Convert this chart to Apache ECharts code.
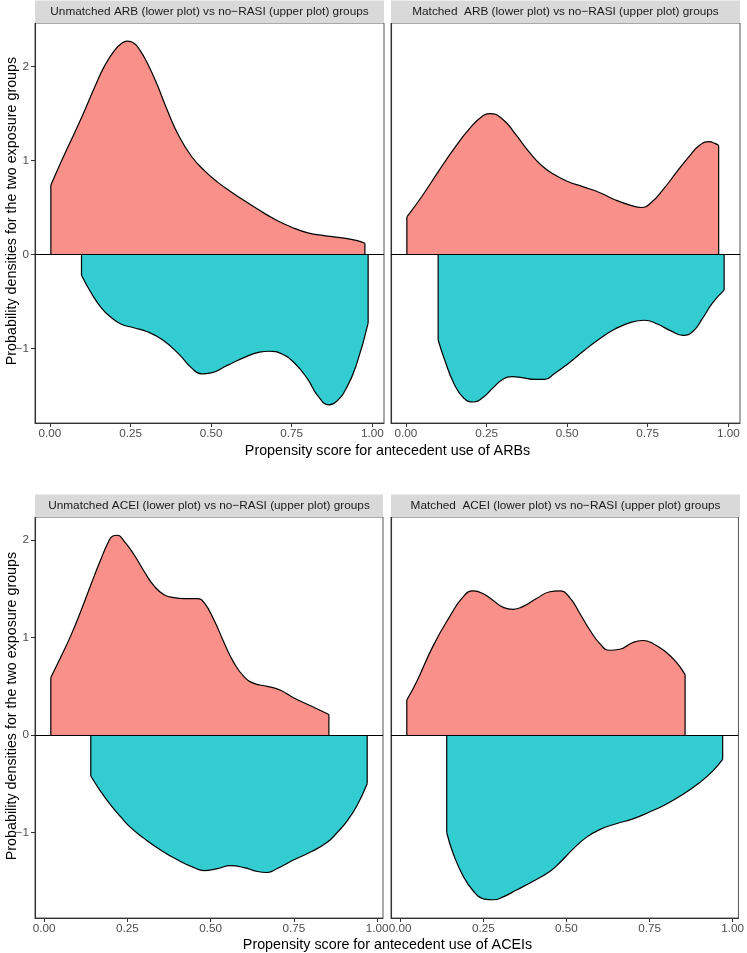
<!DOCTYPE html>
<html><head><meta charset="utf-8">
<script src="https://cdn.jsdelivr.net/npm/echarts@6/dist/echarts.min.js"></script>
<style>html,body{margin:0;padding:0;background:#fff}#c{width:747px;height:953px}</style>
</head><body><div id="c"></div>
<script>
// ---------- text ----------
const stripTitles = [
  'Unmatched ARB (lower plot) vs no\u2212RASI (upper plot) groups',
  'Matched  ARB (lower plot) vs no\u2212RASI (upper plot) groups',
  'Unmatched ACEI (lower plot) vs no\u2212RASI (upper plot) groups',
  'Matched  ACEI (lower plot) vs no\u2212RASI (upper plot) groups'
];
const xAxisTitles = ['Propensity score for antecedent use of ARBs', 'Propensity score for antecedent use of ACEIs'];
const yAxisTitle = 'Probability densities for the two exposure groups';
const xTickValues = [0, 0.25, 0.5, 0.75, 1];
const yTickValues = [-1, 0, 1, 2];

// ---------- data: [propensity score, density] ----------
// Unmatched ARB panel
const arbUnmatchedNoRasi = [[0.003,0.74],[0.05,1.10],[0.10,1.47],[0.14,1.79],[0.17,2.01],[0.20,2.17],[0.22,2.24],[0.24,2.27],[0.26,2.25],[0.28,2.17],[0.30,2.05],[0.33,1.83],[0.36,1.57],[0.40,1.26],[0.44,1.04],[0.48,0.89],[0.52,0.77],[0.56,0.67],[0.60,0.58],[0.65,0.47],[0.70,0.37],[0.75,0.29],[0.80,0.23],[0.85,0.20],[0.90,0.18],[0.95,0.15],[0.977,0.12]];
const arbUnmatchedArb = [[0.098,-0.22],[0.13,-0.42],[0.16,-0.57],[0.19,-0.67],[0.22,-0.74],[0.26,-0.78],[0.30,-0.82],[0.35,-0.91],[0.40,-1.06],[0.44,-1.21],[0.47,-1.27],[0.50,-1.26],[0.55,-1.18],[0.60,-1.10],[0.65,-1.04],[0.68,-1.03],[0.72,-1.06],[0.76,-1.16],[0.80,-1.33],[0.83,-1.50],[0.866,-1.60],[0.89,-1.56],[0.92,-1.42],[0.95,-1.18],[0.987,-0.73]];
// Matched ARB panel
const arbMatchedNoRasi = [[0.003,0.40],[0.05,0.62],[0.10,0.88],[0.15,1.13],[0.20,1.35],[0.24,1.48],[0.26,1.50],[0.30,1.44],[0.34,1.28],[0.38,1.10],[0.42,0.95],[0.46,0.85],[0.50,0.78],[0.55,0.72],[0.60,0.66],[0.65,0.58],[0.70,0.52],[0.73,0.50],[0.76,0.55],[0.80,0.70],[0.84,0.88],[0.88,1.05],[0.91,1.16],[0.94,1.20],[0.96,1.18],[0.97,1.16]];
const arbMatchedArb = [[0.10,-0.91],[0.12,-1.12],[0.15,-1.38],[0.18,-1.53],[0.21,-1.57],[0.24,-1.52],[0.27,-1.42],[0.30,-1.33],[0.33,-1.30],[0.36,-1.31],[0.40,-1.33],[0.43,-1.33],[0.46,-1.27],[0.50,-1.17],[0.55,-1.03],[0.60,-0.90],[0.65,-0.79],[0.70,-0.72],[0.74,-0.70],[0.78,-0.74],[0.82,-0.81],[0.86,-0.86],[0.89,-0.82],[0.92,-0.68],[0.95,-0.52],[0.987,-0.38]];
// Unmatched ACEI panel
const aceiUnmatchedNoRasi = [[0.02,0.59],[0.05,0.80],[0.08,1.02],[0.11,1.27],[0.14,1.54],[0.17,1.80],[0.19,1.96],[0.205,2.04],[0.22,2.05],[0.24,1.99],[0.27,1.85],[0.30,1.68],[0.33,1.53],[0.36,1.44],[0.39,1.41],[0.42,1.40],[0.46,1.40],[0.48,1.36],[0.51,1.18],[0.54,0.95],[0.57,0.74],[0.60,0.60],[0.63,0.53],[0.67,0.50],[0.71,0.46],[0.75,0.38],[0.80,0.30],[0.855,0.21]];
const aceiUnmatchedAcei = [[0.14,-0.42],[0.17,-0.58],[0.20,-0.72],[0.23,-0.84],[0.26,-0.95],[0.30,-1.06],[0.35,-1.18],[0.40,-1.28],[0.45,-1.36],[0.48,-1.39],[0.52,-1.37],[0.56,-1.34],[0.60,-1.36],[0.64,-1.40],[0.67,-1.41],[0.70,-1.37],[0.75,-1.28],[0.80,-1.20],[0.85,-1.10],[0.88,-1.00],[0.91,-0.88],[0.94,-0.72],[0.97,-0.50]];
// Matched ACEI panel
const aceiMatchedNoRasi = [[0.02,0.36],[0.05,0.55],[0.10,0.92],[0.15,1.22],[0.19,1.42],[0.22,1.48],[0.25,1.45],[0.28,1.38],[0.31,1.31],[0.34,1.29],[0.37,1.32],[0.41,1.40],[0.45,1.47],[0.48,1.48],[0.51,1.41],[0.54,1.25],[0.57,1.08],[0.60,0.94],[0.63,0.87],[0.66,0.88],[0.70,0.95],[0.73,0.97],[0.76,0.94],[0.80,0.85],[0.83,0.75],[0.857,0.62]];
const aceiMatchedAcei = [[0.14,-1.00],[0.16,-1.22],[0.19,-1.45],[0.22,-1.60],[0.25,-1.68],[0.28,-1.69],[0.31,-1.66],[0.35,-1.59],[0.40,-1.50],[0.45,-1.40],[0.48,-1.31],[0.52,-1.17],[0.56,-1.05],[0.60,-0.97],[0.65,-0.91],[0.70,-0.86],[0.75,-0.79],[0.80,-0.71],[0.85,-0.61],[0.90,-0.49],[0.94,-0.37],[0.97,-0.25]];

const panels = [
  [arbUnmatchedNoRasi, arbUnmatchedArb],
  [arbMatchedNoRasi, arbMatchedArb],
  [aceiUnmatchedNoRasi, aceiUnmatchedAcei],
  [aceiMatchedNoRasi, aceiMatchedAcei]
];

// ---------- styling / layout ----------
const FONT = '"Liberation Sans", Arial, Helvetica, sans-serif';
const upperFill = '#F9918A';
const lowerFill = '#33CCD0';
const gridPos = [
  {left: 35, top: 23, width: 349, height: 400},
  {left: 391, top: 23, width: 349, height: 400},
  {left: 35, top: 517, width: 348, height: 401},
  {left: 391, top: 517, width: 349, height: 401}
];

function expandedRange(rows, idx, includeZero) {
  let lo = Infinity, hi = -Infinity;
  rows.forEach(r => r.forEach(p => { lo = Math.min(lo, p[idx]); hi = Math.max(hi, p[idx]); }));
  if (includeZero) { lo = Math.min(lo, 0); hi = Math.max(hi, 0); }
  const pad = (hi - lo) * 0.05;
  return [lo - pad, hi + pad];
}
const rowSeries = [[arbUnmatchedNoRasi, arbUnmatchedArb, arbMatchedNoRasi, arbMatchedArb],
                   [aceiUnmatchedNoRasi, aceiUnmatchedAcei, aceiMatchedNoRasi, aceiMatchedAcei]];
const xRanges = rowSeries.map(r => expandedRange(r, 0, false));
const yRanges = rowSeries.map(r => expandedRange(r, 1, true));

const fmtMinus = v => (v < 0 ? '\u2212' + Math.abs(v) : String(v));

const grid = [], xAxis = [], yAxis = [], series = [];
panels.forEach((pair, i) => {
  const row = i < 2 ? 0 : 1;
  const isLeft = i % 2 === 0;
  grid.push(Object.assign({show: true, borderColor: '#555', borderWidth: 1, backgroundColor: '#fff', containLabel: false}, gridPos[i]));
  xAxis.push({
    type: 'value', gridIndex: i, min: xRanges[row][0], max: xRanges[row][1],
    axisLine: {show: true, onZero: false, lineStyle: {color: '#333', width: 1.1}},
    axisTick: {show: true, length: 4, lineStyle: {color: '#333'}, customValues: xTickValues},
    axisLabel: {color: '#4D4D4D', fontSize: 11.7, fontFamily: FONT, margin: 5, customValues: xTickValues,
                formatter: v => v.toFixed(2)},
    splitLine: {show: false}
  });
  yAxis.push({
    type: 'value', gridIndex: i, min: yRanges[row][0], max: yRanges[row][1],
    axisLine: {show: true, onZero: false, lineStyle: {color: '#333', width: 1.1}},
    axisTick: {show: isLeft, length: 4, lineStyle: {color: '#333'}, customValues: yTickValues},
    axisLabel: {show: isLeft, color: '#4D4D4D', fontSize: 11.7, fontFamily: FONT, margin: 6, customValues: yTickValues,
                formatter: fmtMinus},
    splitLine: {show: false}
  });
  pair.forEach((data, k) => {
    series.push({
      type: 'line', xAxisIndex: i, yAxisIndex: i, data: data, smooth: 0.5,
      showSymbol: false, symbol: 'none', silent: true, z: 2,
      lineStyle: {color: '#000', width: 1.2},
      areaStyle: {color: k === 0 ? upperFill : lowerFill, opacity: 1, origin: 0},
      markLine: k === 0 ? {silent: true, symbol: ['none', 'none'], label: {show: false},
        lineStyle: {color: '#000', width: 1.1, type: 'solid'}, data: [{yAxis: 0}], z: 5} : undefined
    });
    // vertical outline edges at both ends of each density
    [data[0], data[data.length - 1]].forEach(p => {
      series.push({
        type: 'line', xAxisIndex: i, yAxisIndex: i, data: [[p[0], 0], p], smooth: false,
        showSymbol: false, symbol: 'none', silent: true, z: 3,
        lineStyle: {color: '#000', width: 1.2}
      });
    });
  });
});

const graphic = [];
gridPos.forEach((g, i) => {
  const top = g.top - 22.5;
  graphic.push({type: 'rect', silent: true, z: 10,
    shape: {x: g.left, y: top, width: g.width, height: 22.5},
    style: {fill: '#D9D9D9'}});
  graphic.push({type: 'text', silent: true, z: 11, x: g.left + g.width / 2, y: top + 11.5,
    style: {text: stripTitles[i], fill: '#1A1A1A', font: '11.8px ' + FONT,
            align: 'center', verticalAlign: 'middle', textAlign: 'center', textVerticalAlign: 'middle'}});
});
[[451, 0], [945, 1]].forEach(([y, k]) => {
  graphic.push({type: 'text', silent: true, z: 11, x: 387.5, y: y,
    style: {text: xAxisTitles[k], fill: '#000', font: '14.3px ' + FONT,
            align: 'center', verticalAlign: 'middle', textAlign: 'center', textVerticalAlign: 'middle'}});
});
[211, 706].forEach(y => {
  graphic.push({type: 'text', silent: true, z: 11, x: 12, y: y, rotation: Math.PI / 2,
    style: {text: yAxisTitle, fill: '#000', font: '14.3px ' + FONT,
            align: 'center', verticalAlign: 'middle', textAlign: 'center', textVerticalAlign: 'middle'}});
});

const chart = echarts.init(document.getElementById('c'), null, {renderer: 'canvas'});
chart.setOption({animation: false, backgroundColor: '#fff', grid, xAxis, yAxis, series, graphic});
</script>
</body></html>
